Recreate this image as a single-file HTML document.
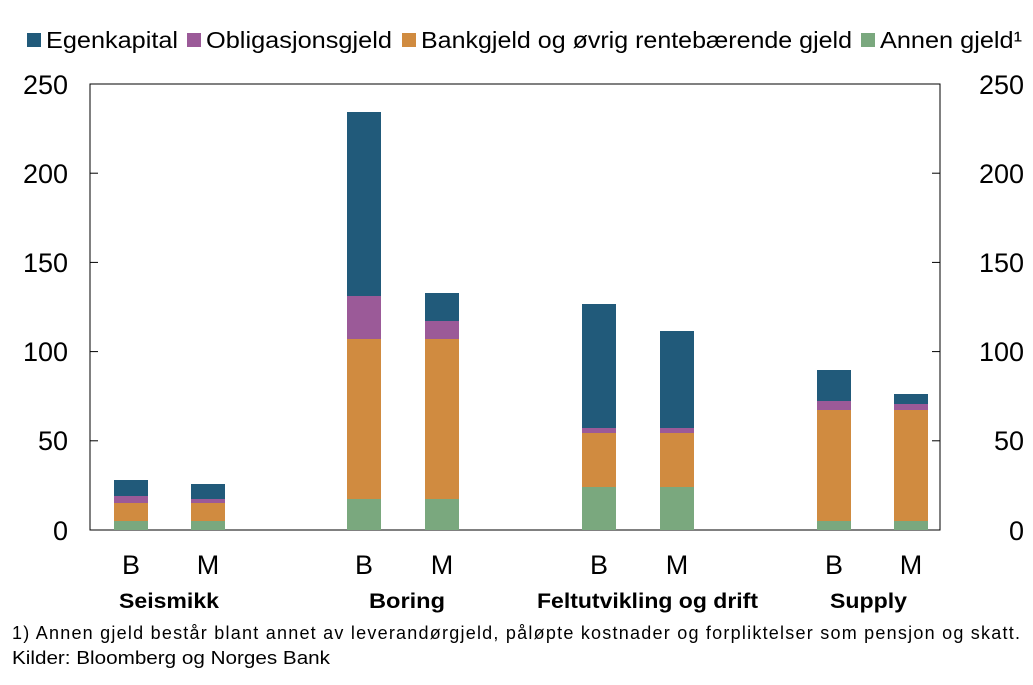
<!DOCTYPE html>
<html><head><meta charset="utf-8"><style>
body{margin:0;background:#fff;}
text{font-family:"Liberation Sans",Arial,sans-serif;fill:#000;}
</style></head><body>
<svg width="1033" height="680" xmlns="http://www.w3.org/2000/svg">
<rect width="1033" height="680" fill="#fff"/>
<rect x="27" y="33" width="14" height="14" fill="#215a7a"/><text x="46" y="48" font-size="23" textLength="132" lengthAdjust="spacingAndGlyphs">Egenkapital</text>
<rect x="187" y="33" width="14" height="14" fill="#9b5a98"/><text x="206" y="48" font-size="23" textLength="186" lengthAdjust="spacingAndGlyphs">Obligasjonsgjeld</text>
<rect x="402" y="33" width="14" height="14" fill="#d08b40"/><text x="421" y="48" font-size="23" textLength="431" lengthAdjust="spacingAndGlyphs">Bankgjeld og øvrig rentebærende gjeld</text>
<rect x="861" y="33" width="14" height="14" fill="#7aa87e"/><text x="880" y="48" font-size="23" textLength="142" lengthAdjust="spacingAndGlyphs">Annen gjeld¹</text>
<rect x="90" y="84" width="850" height="446" fill="none" stroke="#000" stroke-width="1"/>
<g stroke="#000" stroke-width="1">
<line x1="90" y1="173.2" x2="98" y2="173.2"/><line x1="90" y1="262.4" x2="98" y2="262.4"/><line x1="90" y1="351.6" x2="98" y2="351.6"/><line x1="90" y1="440.8" x2="98" y2="440.8"/>
<line x1="932" y1="173.2" x2="940" y2="173.2"/><line x1="932" y1="262.4" x2="940" y2="262.4"/><line x1="932" y1="351.6" x2="940" y2="351.6"/><line x1="932" y1="440.8" x2="940" y2="440.8"/>
</g>
<g font-size="27" text-anchor="end">
<text x="68" y="94">250</text><text x="68" y="183">200</text><text x="68" y="272">150</text><text x="68" y="361">100</text><text x="68" y="450">50</text><text x="68" y="540">0</text>
</g>
<g font-size="27" text-anchor="end">
<text x="1024" y="94">250</text><text x="1024" y="183">200</text><text x="1024" y="272">150</text><text x="1024" y="361">100</text><text x="1024" y="450">50</text><text x="1024" y="540">0</text>
</g>
<g>
<rect x="114" y="521" width="34" height="9" fill="#7aa87e"/><rect x="114" y="503" width="34" height="18" fill="#d08b40"/><rect x="114" y="496" width="34" height="7" fill="#9b5a98"/><rect x="114" y="480" width="34" height="16" fill="#215a7a"/>
<rect x="191" y="521" width="34" height="9" fill="#7aa87e"/><rect x="191" y="503" width="34" height="18" fill="#d08b40"/><rect x="191" y="499" width="34" height="4" fill="#9b5a98"/><rect x="191" y="484" width="34" height="15" fill="#215a7a"/>
<rect x="347" y="499" width="34" height="31" fill="#7aa87e"/><rect x="347" y="339" width="34" height="160" fill="#d08b40"/><rect x="347" y="296" width="34" height="43" fill="#9b5a98"/><rect x="347" y="112" width="34" height="184" fill="#215a7a"/>
<rect x="425" y="499" width="34" height="31" fill="#7aa87e"/><rect x="425" y="339" width="34" height="160" fill="#d08b40"/><rect x="425" y="321" width="34" height="18" fill="#9b5a98"/><rect x="425" y="293" width="34" height="28" fill="#215a7a"/>
<rect x="582" y="487" width="34" height="43" fill="#7aa87e"/><rect x="582" y="433" width="34" height="54" fill="#d08b40"/><rect x="582" y="428" width="34" height="5" fill="#9b5a98"/><rect x="582" y="304" width="34" height="124" fill="#215a7a"/>
<rect x="660" y="487" width="34" height="43" fill="#7aa87e"/><rect x="660" y="433" width="34" height="54" fill="#d08b40"/><rect x="660" y="428" width="34" height="5" fill="#9b5a98"/><rect x="660" y="331" width="34" height="97" fill="#215a7a"/>
<rect x="817" y="521" width="34" height="9" fill="#7aa87e"/><rect x="817" y="410" width="34" height="111" fill="#d08b40"/><rect x="817" y="401" width="34" height="9" fill="#9b5a98"/><rect x="817" y="370" width="34" height="31" fill="#215a7a"/>
<rect x="894" y="521" width="34" height="9" fill="#7aa87e"/><rect x="894" y="410" width="34" height="111" fill="#d08b40"/><rect x="894" y="404" width="34" height="6" fill="#9b5a98"/><rect x="894" y="394" width="34" height="10" fill="#215a7a"/>
</g>
<g font-size="27" text-anchor="middle">
<text x="131" y="574">B</text><text x="208" y="574">M</text>
<text x="364" y="574">B</text><text x="442" y="574">M</text>
<text x="599" y="574">B</text><text x="677" y="574">M</text>
<text x="834" y="574">B</text><text x="911" y="574">M</text>
</g>
<g font-size="21" font-weight="bold">
<text x="119" y="608" textLength="100" lengthAdjust="spacingAndGlyphs">Seismikk</text>
<text x="369" y="608" textLength="76" lengthAdjust="spacingAndGlyphs">Boring</text>
<text x="537" y="608" textLength="221" lengthAdjust="spacingAndGlyphs">Feltutvikling og drift</text>
<text x="830" y="608" textLength="77" lengthAdjust="spacingAndGlyphs">Supply</text>
</g>
<text x="12" y="639" font-size="18" textLength="1008" lengthAdjust="spacing">1) Annen gjeld består blant annet av leverandørgjeld, påløpte kostnader og forpliktelser som pensjon og skatt.</text>
<text x="12" y="664" font-size="18" textLength="318" lengthAdjust="spacingAndGlyphs">Kilder: Bloomberg og Norges Bank</text>
</svg>
</body></html>
